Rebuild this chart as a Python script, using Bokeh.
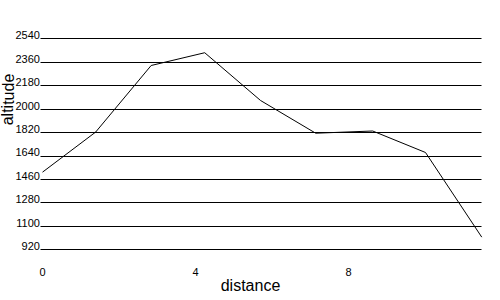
from bokeh.plotting import figure
from bokeh.models import FixedTicker, Range1d, LinearAxis, Grid, Label
from bokeh.embed import file_html
from bokeh.resources import INLINE

distance = [0, 1.39, 2.84, 4.24, 5.7, 7.14, 8.63, 10.01, 11.48]
altitude = [1516, 1824, 2335, 2433, 2066, 1815, 1832, 1667, 1017]
x_ticks = [0, 4, 8]
y_ticks = [920, 1100, 1280, 1460, 1640, 1820, 2000, 2180, 2360, 2540]

FONT = "Liberation Sans"
X0, X1 = -0.052, 11.477   # plotting area edges (data units)
Y0 = 875.6                # bottom of the plotting area (data units)
YLAB_AT = 0.09            # where the y tick labels end (they overlap the grid start)

# the frame covers the whole canvas; axes are drawn at fixed locations inside it
p = figure(width=500, height=300, output_backend="svg", toolbar_location=None,
           x_range=Range1d(-1.0977, 11.97), y_range=Range1d(530.6, 2834),
           x_axis_location=None, y_axis_location=None,
           min_border=0)
p.outline_line_color = None
p.background_fill_color = "white"
p.border_fill_color = "white"
p.xgrid.visible = False
p.ygrid.visible = False

p.add_layout(Grid(dimension=1, ticker=FixedTicker(ticks=y_ticks), cross_bounds=(X0, X1),
                  grid_line_color="black", grid_line_width=1), "center")

p.line(distance, altitude, line_color="black", line_width=1)

# tick-label axis: labels sit ~3.5px above each grid line, as in the reference
p.extra_y_ranges = {"lab": Range1d(503.6, 2807)}
yax = LinearAxis(y_range_name="lab", ticker=FixedTicker(ticks=y_ticks), fixed_location=YLAB_AT)
xax = LinearAxis(ticker=FixedTicker(ticks=x_ticks), fixed_location=Y0)
p.add_layout(yax, "left")
p.add_layout(xax, "below")
for ax in (xax, yax):
    ax.axis_line_color = None
    ax.major_tick_line_color = None
    ax.minor_tick_line_color = None
    ax.major_label_text_font = FONT
    ax.major_label_text_font_size = "11px"
    ax.major_label_text_color = "black"
xax.major_label_standoff = 6
yax.major_label_standoff = 0

p.add_layout(Label(x=250, y=14.8, x_units="screen", y_units="screen", text="distance",
                   text_font=FONT, text_font_size="16px", text_align="center",
                   text_baseline="middle", text_color="black"))
p.add_layout(Label(x=7.5, y=201, x_units="screen", y_units="screen", text="altitude",
                   text_font=FONT, text_font_size="16px", text_align="center",
                   text_baseline="middle", angle=1.5707963, text_color="black"))

open("out.html", "w").write(file_html(p, INLINE))
